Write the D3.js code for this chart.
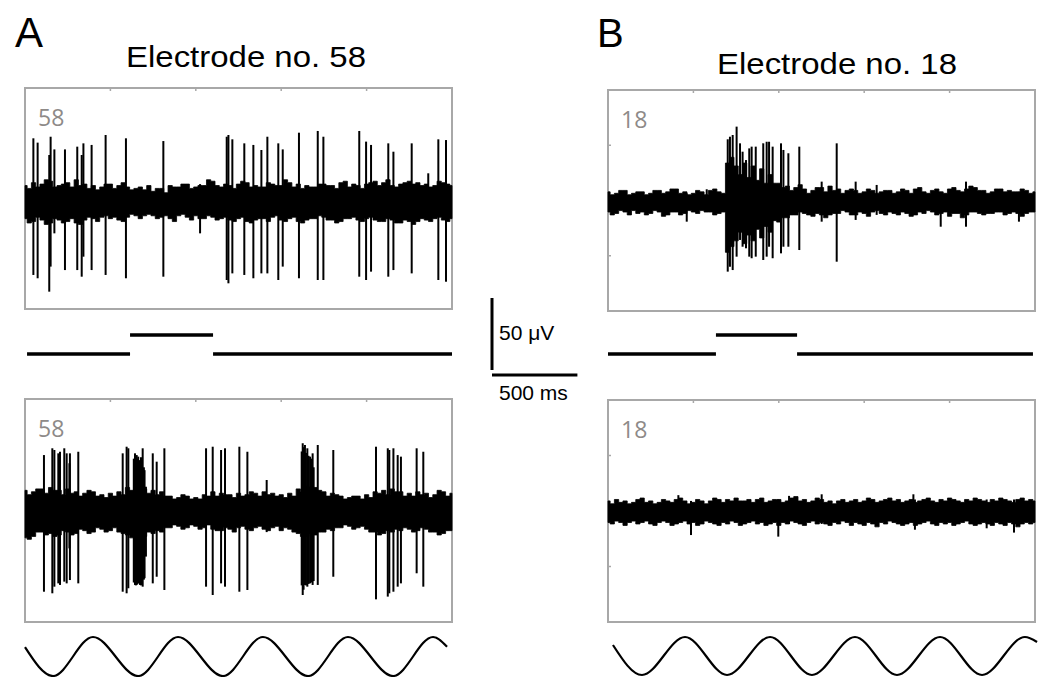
<!DOCTYPE html>
<html>
<head>
<meta charset="utf-8">
<script src="https://cdn.jsdelivr.net/npm/d3@7/dist/d3.min.js"></script>
<style>
  body { margin: 0; background: #fff; }
  svg { display: block; font-family: "Liberation Sans", Arial, sans-serif; }
</style>
</head>
<body>
<div id="elements"></div>
<script>
'use strict';
// multi-electrode recordings, two electrodes, step stimulus (top) and sine stimulus (bottom)

// time in ms, voltage in uV
var panelLetters = ["A", "B"];
var panelTitles = ["Electrode no. 58", "Electrode no. 18"];
var traceLabels = ["58", "58", "18", "18"];

// noise envelope of each trace, one value every 25 ms (0..2500 ms)
var envTopA1 = [9,7,11,8,10,13,12,8,9,10, 11,8,13,9,10,7,9,6,8,10, 10,7,9,11,8,6,7,8,6,9, 5,7,7,4,9,8,8,10,10,7,
    8,9,9,13,12,9,8,10,9,7, 10,12,11,8,9,8,8,11,10,9, 9,13,11,8,10,7,9,8,8,10, 10,9,9,7,11,12,8,10,9,7,
    10,11,12,9,11,13,9,8,10,11, 12,10,11,9,10,8,9,12,11,10, 9];
var envBotA1 = [-14,-17,-16,-13,-15,-18,-17,-14,-15,-17, -16,-14,-17,-18,-15,-13,-14,-16,-13,-12, -14,-13,-15,-16,-13,-11,-12,-14,-12,-11,
    -12,-14,-13,-12,-14,-16,-12,-11,-13,-15, -12,-14,-14,-12,-13,-15,-14,-13,-15,-16, -14,-13,-16,-17,-15,-14,-14,-16,-13,-12,
    -15,-16,-14,-13,-16,-17,-15,-14,-14,-12, -13,-15,-15,-17,-16,-14,-14,-13,-15,-16, -14,-13,-15,-16,-16,-14,-15,-17,-17,-15,
    -16,-18,-16,-14,-15,-16,-14,-13,-15,-16, -14];
var envTopA2 = [14,11,13,15,15,12,16,14,14,11, 15,12,13,10,12,14,13,10,11,9, 12,10,13,11,16,14,17,18,15,12, 14,11,13,10,10,8,9,11,10,8,
    9,8,11,10,13,10,12,11,11,9, 12,10,11,13,12,10,13,11,12,10, 11,9,12,10,15,13,17,16,16,14, 13,10,12,11,10,8,9,10,10,8,
    11,9,13,12,14,11,15,13,13,10, 12,10,13,11,12,9,11,14,13,10, 12];
var envBotA2 = [-19,-20,-18,-15,-15,-17,-16,-18,-17,-14, -15,-17,-16,-13,-14,-16,-15,-12,-13,-15, -14,-12,-15,-16,-17,-19,-19,-17,-18,-15,
    -16,-14,-15,-12,-12,-10,-11,-13,-12,-10, -11,-13,-12,-10,-13,-14,-14,-12,-13,-15, -12,-11,-13,-14,-12,-11,-13,-14,-12,-11,
    -14,-12,-13,-15,-16,-18,-18,-16,-17,-15, -15,-13,-14,-12,-12,-10,-11,-13,-12,-11, -13,-15,-15,-17,-16,-14,-15,-13,-14,-12,
    -13,-15,-14,-12,-13,-15,-15,-17,-16,-14, -14];
var envTopB1 = [6,4,5,7,7,4,5,6,6,4, 5,7,7,5,6,8,8,5,6,4, 5,7,6,4,7,8,6,5,26,30, 24,18,26,16,24,14,22,12,18,12,
    12,9,10,7,9,11,8,5,7,9, 9,6,10,7,8,5,7,8,7,5, 6,8,7,5,6,7,7,5,6,8, 7,5,8,9,6,5,7,8,6,5,
    8,9,7,6,8,10,9,7,7,5, 6,8,8,6,7,6,6,8,7,5, 6];
var envBotB1 = [-8,-10,-9,-7,-8,-10,-7,-9,-8,-10, -9,-7,-8,-11,-10,-8,-8,-10,-9,-7, -8,-9,-7,-8,-8,-10,-9,-8,-36,-32,
    -28,-22,-30,-24,-28,-20,-26,-18,-22,-14, -15,-12,-12,-10,-10,-8,-9,-10,-11,-9, -10,-12,-10,-9,-9,-7,-8,-10,-10,-8,
    -9,-11,-8,-7,-9,-10,-8,-9,-10,-8, -9,-11,-10,-8,-9,-7,-8,-10,-9,-8, -11,-9,-9,-12,-10,-8,-8,-9,-10,-9,
    -9,-8,-8,-10,-9,-8,-9,-11,-9,-8, -8];
var envTopB2 = [7,5,8,6,7,5,6,8,9,6, 7,5,6,8,7,6,8,9,7,5, 6,8,7,5,7,9,8,6,8,7, 9,7,7,8,6,8,9,6,7,8,
    8,6,7,9,10,7,8,6,7,9, 8,6,7,5,7,8,6,7,8,6, 7,9,8,6,7,8,9,7,8,6, 7,8,6,7,8,9,7,6,8,7,
    9,8,7,6,8,7,9,8,7,6, 8,7,9,8,7,6,8,9,7,8, 7];
var envBotB2 = [-8,-9,-7,-8,-10,-8,-7,-9,-8,-7, -9,-10,-8,-7,-8,-10,-9,-8,-7,-9, -8,-10,-9,-7,-8,-9,-10,-8,-9,-7,
    -8,-10,-9,-8,-7,-9,-8,-10,-9,-8, -10,-8,-9,-7,-8,-9,-10,-8,-7,-9, -8,-9,-10,-8,-9,-7,-8,-10,-8,-9,
    -10,-8,-9,-11,-8,-9,-7,-8,-9,-10, -9,-8,-10,-9,-8,-7,-9,-10,-8,-9, -8,-10,-9,-8,-7,-9,-10,-9,-8,-9,
    -10,-8,-9,-10,-8,-9,-11,-9,-8,-9, -8];

// spikes: [time, upper peak, lower peak]
var spikesA1 = [[49, 41.8, -53.1], [74, 38.8, -55.4], [142, 30.2, -64.7], [150, 42.9, -47.3], [172, 34.1, -24.2],
    [234, 34.1, -49.7], [306, 36.0, -49.7], [332, 30.2, -54.3], [342, 38.3, -40.4], [390, 37.2, -49.7],
    [472, 44.1, -53.1], [591, 41.8, -55.4], [810, 39.9, -54.3], [1025, 10, -24.2], [1181, 42.9, -56.6],
    [1191, 44.1, -58.9], [1214, 41.1, -52], [1284, 38.3, -53.1], [1337, 37.2, -55.4], [1384, 33.7, -52],
    [1419, 42.9, -52], [1483, 38.3, -56.6], [1509, 34.1, -47.3], [1604, 45.7, -55.4], [1714, 46.9, -56.6],
    [1747, 42.9, -56.6], [1957, 46.9, -54.3], [1997, 39.5, -56.6], [2026, 37.2, -50.8], [2127, 38.3, -54.3],
    [2157, 32.5, -49.7], [2264, 38.3, -52], [2361, 17.5, -12], [2420, 41.1, -56.6], [2465, 40.6, -57.8]];
var spikesA2 = [[111, 38.5, -56.4], [160, 43.2, -57.5], [172, 42, -52.9], [195, 39.7, -50.6], [205, 40.8, -51.7],
    [230, 43.2, -49.4], [244, 39.7, -50.6], [260, 32.8, -26.3], [263, 39.7, -48.3], [312, 40.8, -50.6],
    [572, 39.7, -56.4], [595, 44.3, -57.5], [605, 43.2, -54], [637, 36, -50], [644, 39.7, -51.7],
    [649, 38, -52], [654, 38.5, -51.7], [658, 36, -51], [663, 37.4, -50.6], [668, 35, -50], [673, 33.9, -51.7],
    [679, 37, -52], [684, 36, -51], [689, 43.2, -52.9], [696, 30, -48], [700, 28, -47], [708, 16.5, -32],
    [748, 39.7, -50.6], [771, 33.9, -46], [816, 43.2, -55.2], [1060, 43.2, -52.9], [1099, 44.3, -58.7],
    [1148, 42, -50.6], [1171, 43.2, -52.9], [1255, 44.3, -56.4], [1302, 40.8, -55.2], [1415, 21.2, -15],
    [1620, 41, -52], [1626, 46.7, -58.7], [1631, 44, -55], [1639, 45.5, -51.7], [1645, 40, -52],
    [1653, 43.2, -52.9], [1660, 38, -51], [1669, 37.4, -50.6], [1676, 36, -50], [1684, 39.7, -51.7],
    [1690, 30, -49], [1714, 45.5, -51.7], [1805, 42, -46], [2055, 44.3, -61.7], [2124, 43.2, -59.8],
    [2133, 42, -57.5], [2157, 43.2, -56.4], [2182, 38.5, -52.9], [2201, 37.4, -50.6], [2293, 43.2, -43.6],
    [2332, 40.8, -52.9]];
var spikesB1 = [[461, 5, -14.7], [578, 7.8, -8], [701, 42.5, -49.4], [714, 44.3, -46], [730, 45.5, -48.3],
    [753, 51.3, -39], [773, 39.7, -27.4], [788, 33.9, -32.1], [808, 28.1, -33.2], [827, 36.2, -39],
    [841, 37.4, -40.1], [865, 37.4, -39], [909, 39.7, -41.3], [929, 40.8, -39], [943, 40.8, -32.1],
    [964, 37.4, -40.1], [1013, 39.7, -36.7], [1027, 35.1, -32.1], [1056, 32.8, -32.1], [1120, 37.4, -34.4],
    [1251, 13.1, -14.7], [1339, 39.7, -42.5], [1450, 13.1, -13.5], [1573, 10.8, -10], [1948, 6, -18.2],
    [2096, 13.1, -18.2], [2406, 6, -14.7]];
var spikesB2 = [[412, 11, -8], [486, 7, -16.7], [997, 8, -17.8], [1060, 10.5, -9], [1251, 11.6, -9],
    [1788, 11.6, -8], [1797, 8, -13], [2217, 8, -12], [2377, 8, -15]];

// step stimulus: edges (ms) and levels between them
var stepEdgesA = [12, 615, 1101, 2500];
var stepEdgesB = [0, 632, 1107, 2488];
var stepLevels = [0, 1, 0];

// sine stimulus: turning points
var sineTimesA = [0, 164, 398, 662, 896, 1159, 1393, 1657, 1891, 2155, 2389, 2471];
var sineValsA = [0.48, -1, 1, -1, 1, -1, 1, -1, 1, -1, 1, 0.5];
var sineTimesB = [29, 199, 451, 697, 949, 1194, 1446, 1692, 1944, 2190, 2441, 2512];
var sineValsB = [0.58, -1, 1, -1, 1, -1, 1, -1, 1, -1, 1, 0.74];

// scale bar
var barTime = 500;
var barVolt = 50;

var W = 1042, H = 677;
var pxPerUV = 1.44;
var envTimes = d3.range(0, 2501, 25);

var svg = d3.select("#elements").append("svg")
    .attr("width", W)
    .attr("height", H);

var panels = [
    {letter: 0, title: 0, lx: 15, ly: 47, bs: 42, tx: 246, ty: 67, left: 25, right: 452,
     boxes: [{top: 88, bottom: 309, top_env: envTopA1, bot_env: envBotA1, spikes: spikesA1, label: 0, yticks: false},
             {top: 399, bottom: 622, top_env: envTopA2, bot_env: envBotA2, spikes: spikesA2, label: 1, yticks: false}],
     step: stepEdgesA, sineT: sineTimesA, sineV: sineValsA, sineY: [676, 637]},
    {letter: 1, title: 1, lx: 597, ly: 47, bs: 40, tx: 837, ty: 74, left: 608, right: 1035,
     boxes: [{top: 90, bottom: 311, top_env: envTopB1, bot_env: envBotB1, spikes: spikesB1, label: 2, yticks: true},
             {top: 400, bottom: 622, top_env: envTopB2, bot_env: envBotB2, spikes: spikesB2, label: 3, yticks: true}],
     step: stepEdgesB, sineT: sineTimesB, sineV: sineValsB, sineY: [675, 637]}
];

panels.forEach(function(p) {
    var g = svg.append("g");
    var x = d3.scaleLinear().domain([0, 2500]).range([p.left, p.right]);

    g.append("text")
        .attr("x", p.lx)
        .attr("y", p.ly)
        .style("font-size", p.bs + "px")
        .text(panelLetters[p.letter]);

    g.append("text")
        .attr("x", p.tx)
        .attr("y", p.ty)
        .attr("text-anchor", "middle")
        .attr("textLength", 240)
        .attr("lengthAdjust", "spacingAndGlyphs")
        .style("font-size", "30px")
        .text(panelTitles[p.title]);

    p.boxes.forEach(function(b) {
        var half = (b.bottom - b.top) / 2 / pxPerUV;
        var y = d3.scaleLinear().domain([-half, half]).range([b.bottom, b.top]);
        var bg = g.append("g");

        // frame
        bg.append("rect")
            .attr("x", p.left)
            .attr("y", b.top)
            .attr("width", p.right - p.left)
            .attr("height", b.bottom - b.top)
            .attr("fill", "none")
            .attr("stroke", "#a8a8a8")
            .attr("stroke-width", 2);

        bg.selectAll(".xtick")
            .data([500, 1000, 1500, 2000])
            .enter().append("line")
            .attr("x1", function(d) { return x(d); })
            .attr("x2", function(d) { return x(d); })
            .attr("y1", b.top)
            .attr("y2", b.top + 3)
            .attr("stroke", "#a8a8a8")
            .attr("stroke-width", 1.5);

        if (b.yticks) {
            bg.selectAll(".ytick")
                .data([0.25, 0.75])
                .enter().append("line")
                .attr("x1", p.left)
                .attr("x2", p.left + 3)
                .attr("y1", function(d) { return b.top + d * (b.bottom - b.top); })
                .attr("y2", function(d) { return b.top + d * (b.bottom - b.top); })
                .attr("stroke", "#a8a8a8")
                .attr("stroke-width", 1.5);
        }

        bg.append("text")
            .attr("x", p.left + 13)
            .attr("y", b.top + 38)
            .style("font-family", "'Open Sans', sans-serif")
            .style("font-size", "23px")
            .attr("fill", "#8e8a88")
            .text(traceLabels[b.label]);

        // noise band
        var area = d3.area()
            .x(function(d, i) { return x(envTimes[i]); })
            .y0(function(d, i) { return y(b.bot_env[i]); })
            .y1(function(d, i) { return y(b.top_env[i]); })
            .curve(d3.curveStep);
        bg.append("path")
            .datum(envTimes)
            .attr("d", area)
            .attr("fill", "#000")
            .attr("stroke", "#000")
            .attr("stroke-width", 0.8);

        // spikes
        bg.selectAll(".spike")
            .data(b.spikes)
            .enter().append("line")
            .attr("x1", function(d) { return x(d[0]); })
            .attr("x2", function(d) { return x(d[0]); })
            .attr("y1", function(d) { return y(d[1]); })
            .attr("y2", function(d) { return y(d[2]); })
            .attr("stroke", "#000")
            .attr("stroke-width", 2);
    });

    // step stimulus under the top box
    var ys = d3.scaleLinear().domain([0, 1]).range([354, 335]);
    g.selectAll(".step")
        .data(stepLevels)
        .enter().append("line")
        .attr("x1", function(d, i) { return x(p.step[i]); })
        .attr("x2", function(d, i) { return x(p.step[i + 1]); })
        .attr("y1", function(d) { return ys(d); })
        .attr("y2", function(d) { return ys(d); })
        .attr("stroke", "#000")
        .attr("stroke-width", 3.5);

    // sine stimulus under the bottom box
    var yw = d3.scaleLinear().domain([-1, 1]).range(p.sineY);
    var line = d3.line()
        .x(function(d) { return x(d[0]); })
        .y(function(d) { return yw(d[1]); })
        .curve(d3.curveMonotoneX);
    g.append("path")
        .datum(d3.zip(p.sineT, p.sineV))
        .attr("d", line)
        .attr("fill", "none")
        .attr("stroke", "#000")
        .attr("stroke-width", 2.2);
});

// scale bar between the panels
var sx = d3.scaleLinear().domain([0, 2500]).range([0, 427]);
var sb = svg.append("g").attr("transform", "translate(492,298)");
sb.append("line")
    .attr("x1", 0).attr("x2", 0)
    .attr("y1", 0).attr("y2", barVolt * pxPerUV)
    .attr("stroke", "#000").attr("stroke-width", 3);
sb.append("line")
    .attr("x1", 0).attr("x2", sx(barTime))
    .attr("y1", 77).attr("y2", 77)
    .attr("stroke", "#000").attr("stroke-width", 3);
sb.append("text")
    .attr("x", 7).attr("y", 42)
    .style("font-size", "21px")
    .text(barVolt + " \u03bcV");
sb.append("text")
    .attr("x", 7).attr("y", 102)
    .style("font-size", "21px")
    .text(barTime + " ms");
</script>
</body>
</html>
